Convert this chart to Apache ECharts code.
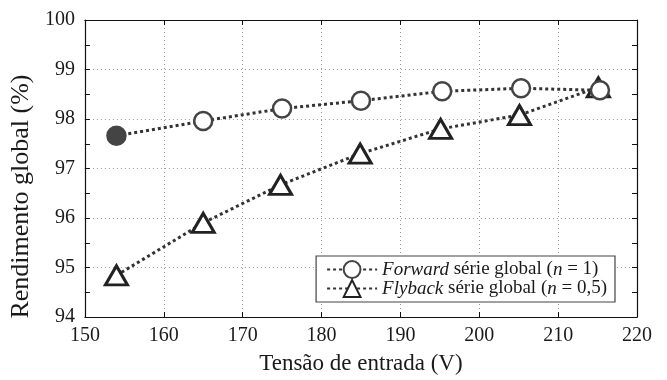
<!DOCTYPE html>
<html>
<head>
<meta charset="utf-8">
<script src="https://cdn.jsdelivr.net/npm/echarts@6/dist/echarts.min.js"></script>
<style>
  html, body { margin: 0; padding: 0; background: #fff; }
  #chart { width: 667px; height: 380px; }
</style>
</head>
<body>
<div id="chart"></div>
<script>
// tensão de entrada (V) e rendimento (%)
var forwardX = [154, 165, 175, 185, 195.3, 205.3, 215.3];
var forwardY = [97.66, 97.96, 98.21, 98.37, 98.56, 98.62, 98.58];
var flybackX = [154, 165, 174.8, 184.9, 195.1, 205.1, 215.1];
var flybackY = [94.84, 95.9, 96.67, 97.3, 97.8, 98.08, 98.64];

var xTicks = [150, 160, 170, 180, 190, 200, 210, 220];
var yTicks = [94, 95, 96, 97, 98, 99, 100];

var serif = 'Liberation Serif';
var ink = '#333';

function pairs(xs, ys) {
  return xs.map(function (x, i) { return [x, ys[i]]; });
}

var fwdData = pairs(forwardX, forwardY);
// primeiro ponto cheio
fwdData[0] = { value: fwdData[0], itemStyle: { color: '#444', borderColor: '#444' } };

var chart = echarts.init(document.getElementById('chart'));

var baseX = {
  type: 'value',
  min: xTicks[0], max: xTicks[xTicks.length - 1], interval: 10,
  axisLine: { show: true, lineStyle: { color: '#111', width: 1.2 } },
  axisTick: { show: true, inside: true, length: 5, lineStyle: { color: '#111' } },
  splitLine: { show: false }
};
var baseY = {
  type: 'value',
  min: yTicks[0], max: yTicks[yTicks.length - 1], interval: 1,
  axisLine: { show: true, lineStyle: { color: '#111', width: 1.2 } },
  axisTick: { show: true, inside: true, length: 5, lineStyle: { color: '#111' } },
  minorTick: { show: true, splitNumber: 2, length: 5, lineStyle: { color: '#111' } },
  splitLine: { show: false }
};

var option = {
  animation: false,
  textStyle: { fontFamily: serif },
  grid: { left: 83, right: 30, top: 20, bottom: 60 },
  legend: {
    data: ['Forward', 'Flyback'],
    orient: 'vertical',
    right: 52,
    bottom: 78,
    padding: [4, 8, 4, 10],
    itemGap: 0,
    itemWidth: 50,
    itemHeight: 21,
    backgroundColor: '#fff',
    borderColor: '#444',
    borderWidth: 1.2,
    borderRadius: 0,
    formatter: function (name) {
      if (name === 'Forward') return '{i|Forward} série global ({i|n} = 1)';
      return '{i|Flyback} série global ({i|n} = 0,5)';
    },
    textStyle: {
      fontFamily: serif, fontSize: 19, color: '#1a1a1a',
      rich: { i: { fontFamily: serif, fontSize: 19, fontStyle: 'italic', color: '#1a1a1a' } }
    }
  },
  xAxis: [
    Object.assign({}, baseX, {
      name: 'Tensão de entrada (V)',
      nameLocation: 'middle',
      nameGap: 35,
      nameTextStyle: { fontFamily: serif, fontSize: 23, color: '#1a1a1a' },
      axisLabel: { fontFamily: serif, fontSize: 20, color: '#1a1a1a', margin: 9 },
      splitLine: { show: true, lineStyle: { color: '#999', type: [1, 3], width: 1 } }
    }),
    Object.assign({}, baseX, { position: 'top', axisLabel: { show: false } })
  ],
  yAxis: [
    Object.assign({}, baseY, {
      name: 'Rendimento global (%)',
      nameLocation: 'middle',
      nameGap: 46,
      nameTextStyle: { fontFamily: serif, fontSize: 26, color: '#1a1a1a', padding: [0, 56, 0, 0] },
      axisLabel: { fontFamily: serif, fontSize: 20, color: '#1a1a1a', margin: 10 },
      splitLine: { show: true, lineStyle: { color: '#999', type: [1, 3], width: 1 } }
    }),
    Object.assign({}, baseY, { position: 'right', axisLabel: { show: false } })
  ],
  series: [
    {
      name: 'Flyback',
      type: 'line',
      xAxisIndex: 0, yAxisIndex: 0,
      data: pairs(flybackX, flybackY),
      symbol: 'triangle',
      symbolSize: [22, 19],
      z: 2,
      lineStyle: { color: ink, width: 3, type: [3, 3] },
      itemStyle: { color: '#fff', borderColor: '#222', borderWidth: 3 }
    },
    {
      name: 'Forward',
      type: 'line',
      xAxisIndex: 0, yAxisIndex: 0,
      data: fwdData,
      symbol: 'circle',
      symbolSize: 18,
      z: 3,
      lineStyle: { color: ink, width: 3, type: [3, 3] },
      itemStyle: { color: '#fff', borderColor: '#444', borderWidth: 2.5 }
    }
  ]
};

chart.setOption(option);
</script>
</body>
</html>
